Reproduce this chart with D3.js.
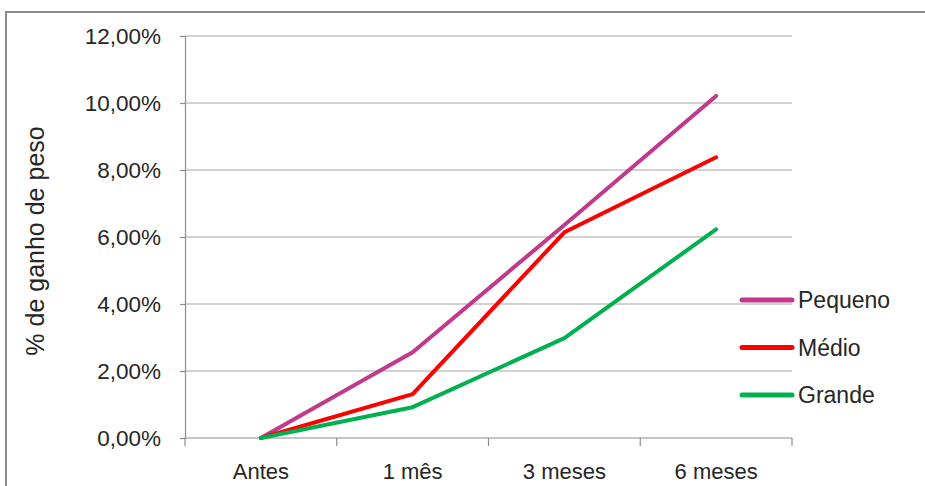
<!DOCTYPE html>
<html>
<head>
<meta charset="utf-8">
<script src="https://cdn.jsdelivr.net/npm/d3@7/dist/d3.min.js"></script>
<style>
  html, body { margin: 0; padding: 0; background: #fff; }
  svg { display: block; font-family: "Liberation Sans", Arial, sans-serif; }
</style>
</head>
<body>
<svg id="chart" width="925" height="486"></svg>
<script>
// Weight gain by size group over time
const categories = ["Antes", "1 mês", "3 meses", "6 meses"];
const pequeno = [0, 0.0256, 0.0636, 0.1021];
const medio   = [0, 0.0131, 0.0614, 0.0838];
const grande  = [0, 0.0092, 0.0298, 0.0623];
const seriesNames = ["Pequeno", "Médio", "Grande"];
const seriesColors = ["#C0398A", "#FF0000", "#00B050"];
const yTicks = [0, 0.02, 0.04, 0.06, 0.08, 0.10, 0.12];

const series = [pequeno, medio, grande].map((v, i) => ({
  name: seriesNames[i], color: seriesColors[i], values: v
}));

const svg = d3.select("#chart");
const plot = { left: 185, right: 792, top: 36, bottom: 438 };
const textColor = "#262626";

// chart frame
svg.append("path")
  .attr("d", "M6,486 V12 H925")
  .attr("fill", "none")
  .attr("stroke", "#8c8c8c")
  .attr("stroke-width", 2);

const x = d3.scaleBand().domain(categories).range([plot.left, plot.right]);
const y = d3.scaleLinear().domain([0, 0.12]).range([plot.bottom, plot.top]);

const fmt = v => d3.format(".2f")(v * 100).replace(".", ",") + "%";

// horizontal gridlines
svg.append("g")
  .selectAll("line")
  .data(yTicks.filter(t => t > 0))
  .join("line")
  .attr("x1", plot.left).attr("x2", plot.right)
  .attr("y1", d => y(d)).attr("y2", d => y(d))
  .attr("stroke", "#a6a6a6").attr("stroke-width", 1.2);

// y axis
const yAxis = svg.append("g")
  .attr("transform", `translate(${plot.left},0)`)
  .call(d3.axisLeft(y).tickValues(yTicks).tickFormat(fmt).tickSize(5).tickPadding(19));
yAxis.select(".domain").attr("stroke", "#8c8c8c").attr("stroke-width", 1.2);
yAxis.selectAll(".tick line").attr("stroke", "#8c8c8c").attr("stroke-width", 1.2);
yAxis.selectAll(".tick text")
  .attr("font-size", 22.5).attr("fill", textColor)
  .attr("font-family", "'Liberation Sans', Arial, sans-serif");

// x axis with category boundary ticks
const xAxisG = svg.append("g").attr("transform", `translate(0,${plot.bottom})`);
xAxisG.append("line")
  .attr("x1", plot.left).attr("x2", plot.right)
  .attr("stroke", "#8c8c8c").attr("stroke-width", 1.2);
const bounds = categories.map(c => x(c)).concat([x(categories[categories.length - 1]) + x.bandwidth()]);
xAxisG.selectAll("line.b")
  .data(bounds)
  .join("line").attr("class", "b")
  .attr("x1", d => d).attr("x2", d => d)
  .attr("y1", 0).attr("y2", 8)
  .attr("stroke", "#8c8c8c").attr("stroke-width", 1.2);
xAxisG.selectAll("text")
  .data(categories)
  .join("text")
  .attr("x", d => x(d) + x.bandwidth() / 2)
  .attr("y", 41)
  .attr("text-anchor", "middle")
  .attr("font-size", 22)
  .attr("fill", textColor)
  .text(d => d);

// y axis title
svg.append("text")
  .attr("transform", `translate(44,241) rotate(-90)`)
  .attr("text-anchor", "middle")
  .attr("font-size", 25)
  .attr("fill", textColor)
  .text("% de ganho de peso");

// series lines
const line = d3.line()
  .x((d, i) => x(categories[i]) + x.bandwidth() / 2)
  .y(d => y(d));

svg.append("g")
  .selectAll("path")
  .data(series)
  .join("path")
  .attr("d", d => line(d.values))
  .attr("fill", "none")
  .attr("stroke", d => d.color)
  .attr("stroke-width", 4)
  .attr("stroke-linejoin", "round")
  .attr("stroke-linecap", "round");

// legend
const legend = svg.append("g").attr("transform", "translate(742,300)");
const item = legend.selectAll("g")
  .data(series)
  .join("g")
  .attr("transform", (d, i) => `translate(0,${i * 47.5})`);
item.append("line")
  .attr("x1", 0).attr("x2", 50)
  .attr("stroke", d => d.color)
  .attr("stroke-width", 5)
  .attr("stroke-linecap", "round");
item.append("text")
  .attr("x", 56).attr("y", 8)
  .attr("font-size", 23)
  .attr("fill", textColor)
  .text(d => d.name);
</script>
</body>
</html>
